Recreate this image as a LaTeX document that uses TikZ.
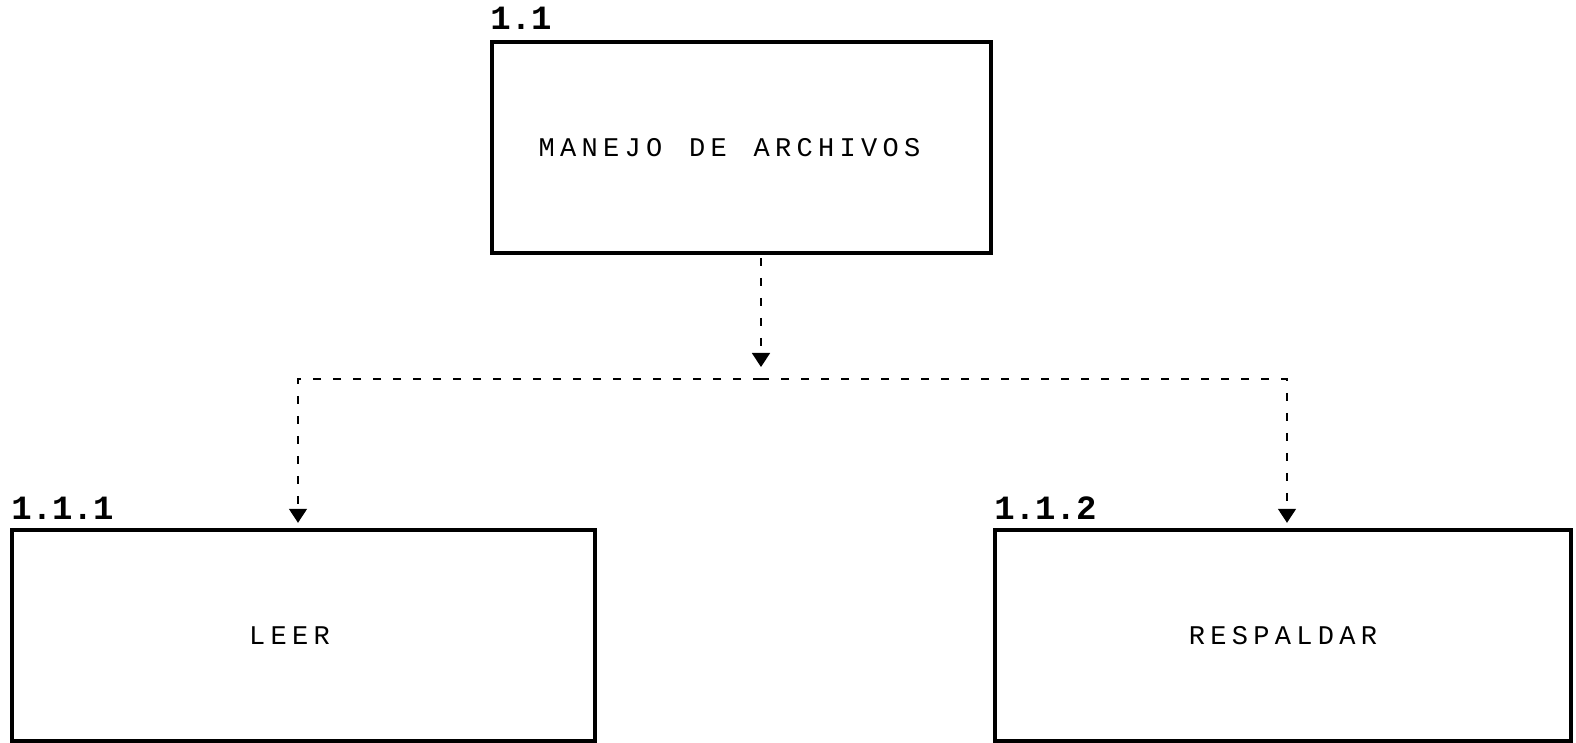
\documentclass[tikz,border=0pt]{standalone}
\usepackage{fontspec}
\usetikzlibrary{arrows.meta,calc}
\newfontfamily\plotfont{Liberation Mono}
\newfontfamily\lblfontfam{Liberation Mono}[BoldFont={Liberation Mono Bold}]
\makeatletter
\def\spaced#1#2{\def\spk{#1}\sp@x#2\relax\kern-\spk}
\def\sp@x#1{\ifx#1\relax\else#1\kern\spk\expandafter\sp@x\fi}
\makeatother
\tikzset{
  box/.style={draw, line width=2.2pt, inner sep=0pt, font=\plotfont\fontsize{13.5}{15}\selectfont},
  numlbl/.style={anchor=base west, inner sep=0pt, font=\lblfontfam\bfseries\fontsize{17}{19}\selectfont},
  conn/.style={line width=0.8pt, dash pattern=on 4pt off 6pt,
    -{Triangle[width=9pt,length=7pt]}, shorten >=2.5pt},
}
\begin{document}
\begin{tikzpicture}[x=0.5pt,y=-0.5pt]
\useasboundingbox (0,0) rectangle (1576,743);
% boxes
\node[box, minimum width=499*0.5pt, minimum height=211*0.5pt] (top) at (741.5,147.5)
  {\spaced{2.65pt}{MANEJO~DE~ARCHIVOS}\kern12pt};
\node[box, minimum width=583*0.5pt, minimum height=211*0.5pt] (left) at (303.5,635.5)
  {\spaced{2.65pt}{LEER}\kern14pt};
\node[box, minimum width=576*0.5pt, minimum height=211*0.5pt] (right) at (1283,635.5)
  {\spaced{2.65pt}{RESPALDAR}};
% number labels
\node[numlbl] (n1) at (490,30) {\spaced{0pt}{1.1}};
\node[numlbl] (n2) at (11,519) {\spaced{0pt}{1.1.1}};
\node[numlbl] (n3) at (994,519) {\spaced{0pt}{1.1.2}};
% connectors
\coordinate (j) at (761,379);
\coordinate (jt) at (761,258);
\coordinate (hl) at (298,379);
\coordinate (hr) at (1287,379);
\draw[conn, shorten >=6pt] (jt) -- (j);
\draw[conn] (j) -| (left.north -| hl);
\draw[conn] (j) -| (right.north -| hr);
\end{tikzpicture}
\end{document}
